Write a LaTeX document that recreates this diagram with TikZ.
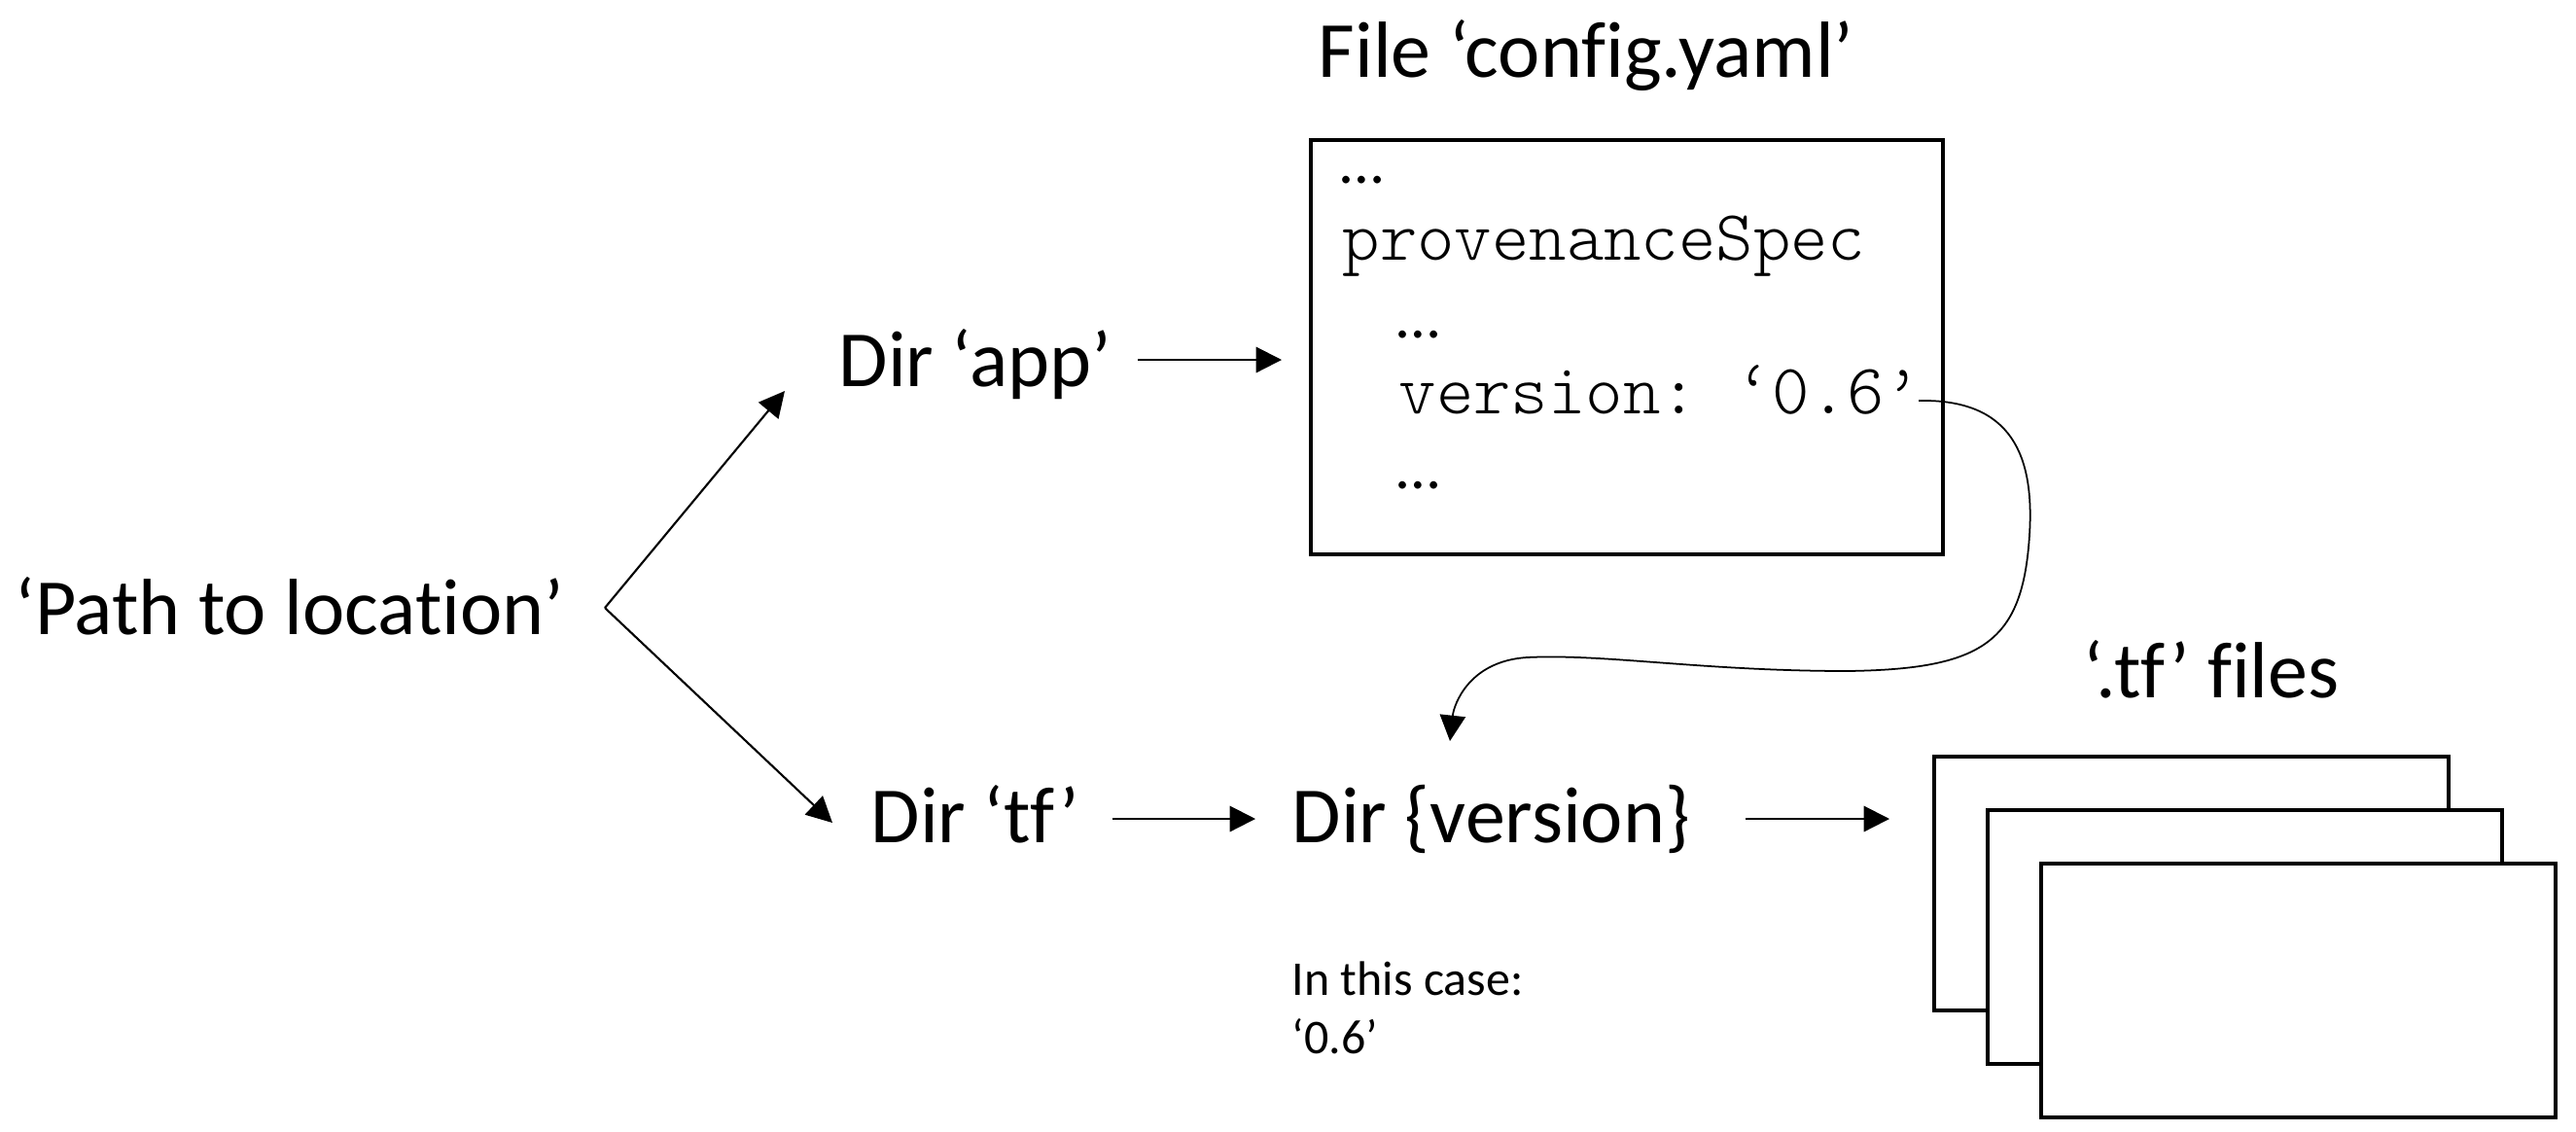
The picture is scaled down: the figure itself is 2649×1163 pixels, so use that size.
\documentclass[tikz,border=0pt]{standalone}
\usepackage{fontspec}
\setmainfont{Carlito}[Ligatures=NoCommon]
\setmonofont{Latin Modern Mono Light}
\usetikzlibrary{arrows.meta}
\begin{document}
\begin{tikzpicture}[x=0.01cm,y=-0.01cm,
  lbl/.style={inner sep=0pt, anchor=base west, font=\fontsize{23.3}{28}\selectfont},
  small/.style={inner sep=0pt, anchor=base west, font=\fontsize{14.2}{17}\selectfont},
  code/.style={inner sep=0pt, anchor=base west, font=\fontsize{20.8}{24}\selectfont\ttfamily},
  dots/.style={inner sep=0pt, anchor=base west, font=\fontsize{18.2}{22}\selectfont},
  conn/.style={line width=0.6pt, -{Triangle[length=7.5pt,width=7.5pt]}},
  curvy/.style={line width=0.5pt, -{Triangle[length=7.5pt,width=7.5pt]}},
  filebox/.style={draw, line width=1pt, fill=white, inner sep=0pt, anchor=north west}]
\useasboundingbox (0,0) rectangle (2649,1163);

% labels
\node[lbl] (path) at (15,652) {‘Path to location’};
\node[lbl] (app) at (862,397) {Dir ‘app’};
\node[lbl] (tf) at (895,866) {Dir ‘tf’};
\node[lbl] (ver) at (1328,866) {Dir \{version\}};
\node[lbl] (title) at (1355,79) {File ‘config.yaml’};
\node[lbl] (tflabel) at (2142,717) {‘.tf’ files};
\node[small] (case1) at (1328,1023) {In this case:};
\node[small] (case2) at (1328,1083) {‘0.6’};

% config file box
\node[filebox, minimum width=6.5cm, minimum height=4.26cm] (cfg) at (1346,142) {};
\node[dots] (d1) at (1378,188) {…};
\node[code] (spec) at (1380,267) {provenanceSpec};
\node[dots] (d2) at (1436,347) {…};
\node[code] (vline) at (1438,425) {version: ‘0.6’};
\node[dots] (d3) at (1436,502) {…};

% stack of .tf files
\node[filebox, minimum width=5.29cm, minimum height=2.61cm] (f1) at (1987,776) {};
\node[filebox, minimum width=5.29cm, minimum height=2.61cm] (f2) at (2042,831) {};
\node[filebox, minimum width=5.29cm, minimum height=2.61cm] (f3) at (2097,886) {};

% connector ends
\coordinate (split) at (622,625);
\coordinate (appin) at (807,402);
\coordinate (tfin) at (856,846);
\coordinate (appout) at (1170,370);
\coordinate (cfgin) at (1318,370);
\coordinate (tfout) at (1144,842);
\coordinate (verin) at (1291,842);
\coordinate (verout) at (1795,842);
\coordinate (filesin) at (1943,842);
\coordinate (vout) at (1973,412);
\coordinate (vertop) at (1491,762);

\draw[conn] (split) -- (appin);
\draw[conn] (split) -- (tfin);
\draw[conn] (appout) -- (cfgin);
\draw[conn] (tfout) -- (verin);
\draw[conn] (verout) -- (filesin);
\draw[curvy] (vout) .. controls (2070,410) and (2092,470) .. (2087,550)
  .. controls (2080,660) and (2040,688) .. (1900,690)
  .. controls (1750,690) and (1650,672) .. (1570,676)
  .. controls (1510,680) and (1495,725) .. (vertop);
\end{tikzpicture}
\end{document}
